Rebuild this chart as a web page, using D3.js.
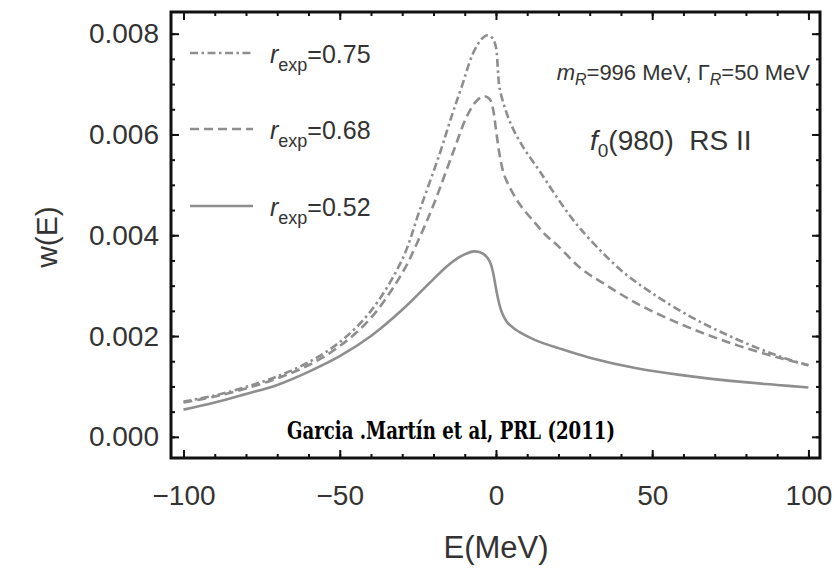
<!DOCTYPE html>
<html>
<head>
<meta charset="utf-8">
<script src="https://cdn.jsdelivr.net/npm/d3@7"></script>
<style>
  body { margin: 0; background: #fff; }
</style>
</head>
<body>
<svg id="chart" width="834" height="568"></svg>
<script>
// data: E in MeV, w(E)
const E_052 = [-100,-90,-80,-70,-60,-50,-40,-30,-20,-15,-11,-7,-4,-2,-1,0,1,2,3.5,6,9,13,20,30,45,60,75,90,100];
const w_052 = [0.00054,0.00068,0.00085,0.00103,0.00129,0.00160,0.00200,0.00252,0.00313,0.00342,0.00359,0.00368,0.00363,0.00348,0.00328,0.00295,0.00265,0.00245,0.00228,0.00214,0.00203,0.00191,0.00176,0.00157,0.00136,0.00122,0.00111,0.00103,0.00098];

const E_068 = [-100,-90,-80,-70,-60,-50,-40,-30,-25,-20,-14,-9,-6,-3.7,-2,-1,0,1.1,2.5,5,8,12,16,20,27,35,45,56,67,78,90,100];
const w_068 = [0.00068,0.00080,0.00096,0.00116,0.00142,0.00180,0.00236,0.00325,0.00388,0.00460,0.00560,0.00640,0.00668,0.00676,0.00670,0.00652,0.00610,0.00562,0.00522,0.00488,0.00458,0.00428,0.00400,0.00378,0.00335,0.00302,0.00265,0.00232,0.00204,0.00180,0.00158,0.00142];

const E_075 = [-100,-90,-80,-70,-60,-50,-40,-30,-24.4,-18,-14,-11,-7.4,-4.5,-2.6,-1,0,0.6,1.1,3,5.4,9,13.9,19,24.5,30,40.5,50,61.8,72,83,92,100];
const w_075 = [0.00070,0.00082,0.00099,0.00120,0.00148,0.00188,0.00250,0.00352,0.00450,0.00562,0.00640,0.00694,0.00760,0.00790,0.00797,0.00790,0.00773,0.00730,0.00694,0.00650,0.00612,0.00572,0.00528,0.00480,0.00432,0.00392,0.00328,0.00285,0.00240,0.00208,0.00178,0.00157,0.00142];

const xMajor = [-100,-50,0,50,100];
const xMinor = d3.range(-100,101,10);
const yMajor = [0,0.002,0.004,0.006,0.008];
const yMinor = d3.range(0,0.0084,0.0005);
const legendLabels = ["0.75","0.68","0.52"];

const frameL = 171, frameR = 820, frameT = 12, frameB = 458;
const sans = '"Liberation Sans", Arial, sans-serif';
const svg = d3.select('#chart').style('font-family', sans);

const x = d3.scaleLinear().domain([-104,103.7]).range([frameL,frameR]);
const y = d3.scaleLinear().domain([-0.00042,0.00843]).range([frameB,frameT]);

const gray = '#8e8e8e';
const ink = '#333';
const series = [
  {E:E_075, w:w_075, dash:'8,3.5,2.5,3.5'},
  {E:E_068, w:w_068, dash:'9,5'},
  {E:E_052, w:w_052, dash:null}
];

const line = d3.line().x(d => x(d[0])).y(d => y(d[1])).curve(d3.curveCatmullRom.alpha(0.5));

const plot = svg.append('g');
series.forEach(s => {
  plot.append('path')
      .datum(s.E.map((e,i) => [e, s.w[i]]))
      .attr('d', line)
      .attr('fill','none')
      .attr('stroke', gray)
      .attr('stroke-width', 2.6)
      .attr('stroke-dasharray', s.dash);
});

// axes with inward ticks
function noLabels(g){ g.selectAll('text').remove(); g.select('.domain').remove(); }

svg.append('g').attr('transform',`translate(0,${frameB})`)
   .call(d3.axisBottom(x).tickValues(xMinor).tickSize(-4)).call(noLabels);
svg.append('g').attr('transform',`translate(0,${frameT})`)
   .call(d3.axisTop(x).tickValues(xMinor).tickSize(-4)).call(noLabels);
svg.append('g').attr('transform',`translate(0,${frameT})`)
   .call(d3.axisTop(x).tickValues(xMajor).tickSize(-8)).call(noLabels);
svg.append('g').attr('transform',`translate(${frameL},0)`)
   .call(d3.axisLeft(y).tickValues(yMinor).tickSize(-4)).call(noLabels);
svg.append('g').attr('transform',`translate(${frameR},0)`)
   .call(d3.axisRight(y).tickValues(yMinor).tickSize(-4)).call(noLabels);
svg.append('g').attr('transform',`translate(${frameR},0)`)
   .call(d3.axisRight(y).tickValues(yMajor).tickSize(-8)).call(noLabels);

const xAxis = svg.append('g').attr('transform',`translate(0,${frameB})`)
   .call(d3.axisBottom(x).tickValues(xMajor).tickSize(-8).tickPadding(27)
         .tickFormat(d => d < 0 ? '\u2212' + Math.abs(d) : d));
const yAxis = svg.append('g').attr('transform',`translate(${frameL},0)`)
   .call(d3.axisLeft(y).tickValues(yMajor).tickSize(-8).tickPadding(12)
         .tickFormat(d3.format('.3f')));
[xAxis, yAxis].forEach(g => {
  g.select('.domain').remove();
  g.attr('font-family', null).attr('font-size', null);
  g.selectAll('text').style('font-size','28px').style('fill', ink).style('font-family', sans);
});
svg.selectAll('.tick line').attr('stroke','#111').attr('stroke-width',2);

// frame
svg.append('rect').attr('x',frameL).attr('y',frameT)
   .attr('width',frameR-frameL).attr('height',frameB-frameT)
   .attr('fill','none').attr('stroke','#111').attr('stroke-width',3);

// axis titles
svg.append('text').attr('x',496).attr('y',558).attr('text-anchor','middle')
   .style('font-size','31px').style('fill',ink).text('E(MeV)');
svg.append('text').attr('transform','translate(57,237) rotate(-90)')
   .attr('text-anchor','middle').style('font-size','30px').style('fill',ink).text('w(E)');

// legend
const legendY = [53,129,206];
series.forEach((s,i) => {
  svg.append('line').attr('x1',190).attr('x2',253)
     .attr('y1',legendY[i]).attr('y2',legendY[i])
     .attr('stroke',gray).attr('stroke-width',2.6)
     .attr('stroke-dasharray', s.dash);
  const t = svg.append('text').attr('x',270).attr('y',legendY[i]+10)
     .style('font-size','25px').style('fill',ink);
  t.append('tspan').style('font-style','italic').text('r');
  t.append('tspan').style('font-size','18px').attr('dy',8).text('exp');
  t.append('tspan').attr('dy',-8).text('=' + legendLabels[i]);
});

// annotations
const ann = svg.append('text').attr('x',810).attr('y',80).attr('text-anchor','end')
   .style('font-size','22px').style('fill',ink);
ann.append('tspan').style('font-style','italic').text('m');
ann.append('tspan').style('font-style','italic').style('font-size','16px').attr('dy',5).text('R');
ann.append('tspan').attr('dy',-5).text('=996 MeV, \u0393');
ann.append('tspan').style('font-style','italic').style('font-size','16px').attr('dy',5).text('R');
ann.append('tspan').attr('dy',-5).text('=50 MeV');

const lab = svg.append('text').attr('x',590).attr('y',150)
   .style('font-size','28px').style('fill',ink).style('white-space','pre');
lab.append('tspan').style('font-style','italic').text('f');
lab.append('tspan').style('font-size','19px').attr('dy',7).text('0');
lab.append('tspan').attr('dy',-7).text('(980)  RS II');

svg.append('text').attr('x',287).attr('y',439)
   .style('font-family','"DejaVu Serif", serif').style('font-weight','bold')
   .style('font-size','25px').attr('textLength',328).attr('lengthAdjust','spacingAndGlyphs')
   .style('fill','#000')
   .text('Garcia .Mart\u00edn et al, PRL (2011)');
</script>
</body>
</html>
